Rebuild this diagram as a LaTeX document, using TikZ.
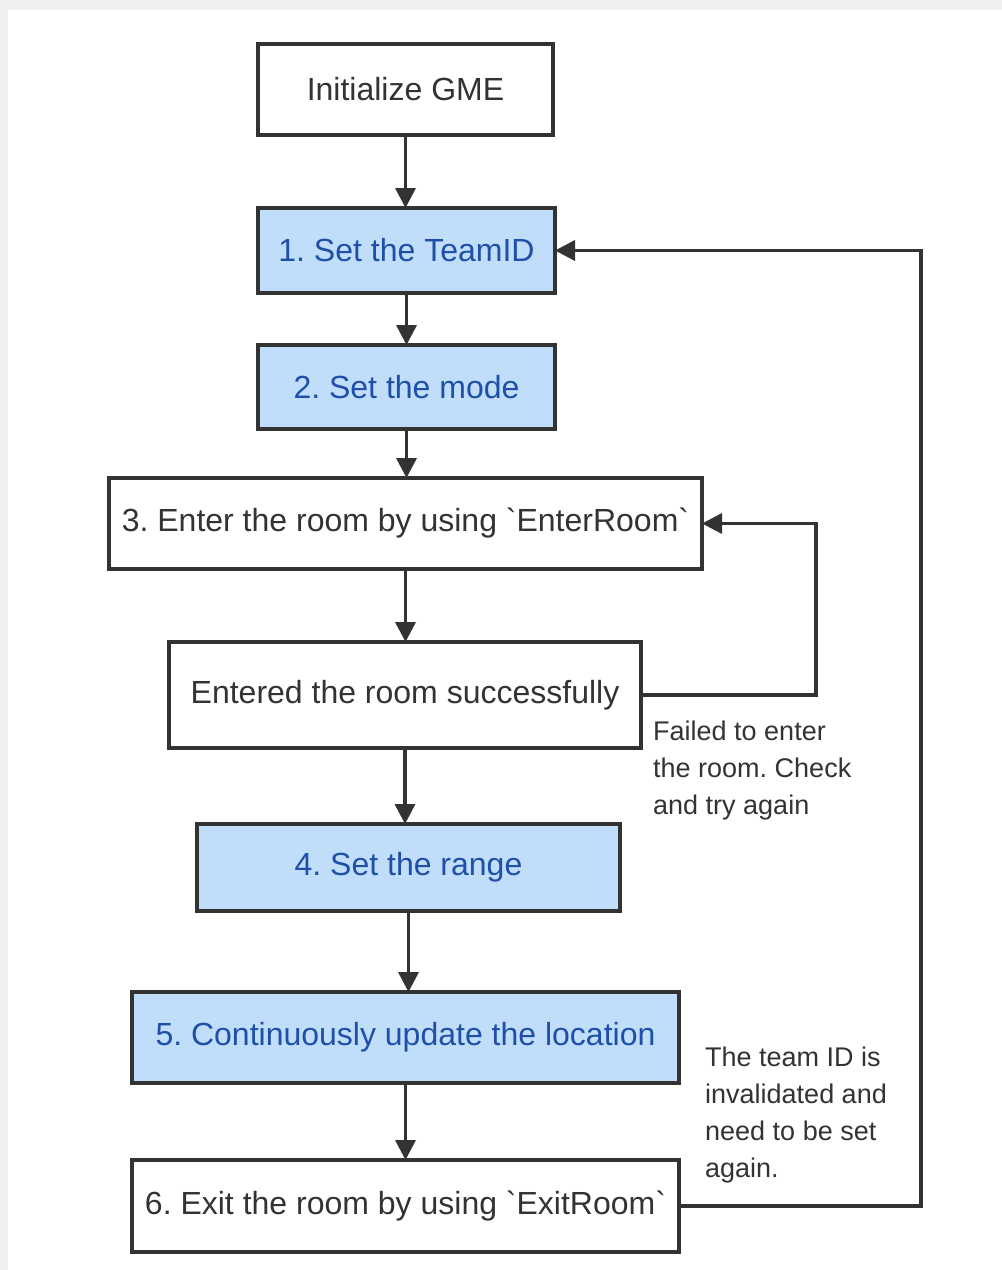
\documentclass[tikz,border=0pt]{standalone}
\usepackage{fontspec}
\setmainfont{Liberation Sans}[Ligatures=TeXOff]
\usetikzlibrary{arrows.meta}
\definecolor{edge}{HTML}{333333}
\definecolor{stepfill}{HTML}{C0DEF9}
\definecolor{steptext}{HTML}{1F4FA8}
\definecolor{plaintext}{HTML}{333333}
\definecolor{frame}{HTML}{EFEFEF}
\begin{document}
\frenchspacing
\begin{tikzpicture}[x=1pt,y=-1pt,
  box/.style={draw=edge, line width=3.5pt, fill=white, text=plaintext,
    font=\fontsize{32}{36}\selectfont, inner sep=0pt, outer sep=0pt, anchor=north west},
  stepbox/.style={box, fill=stepfill, text=steptext},
  link/.style={draw=edge, line width=3.5pt, -{Triangle[length=20pt,width=20pt]}},
  note/.style={text=plaintext, font=\fontsize{27}{37}\selectfont, align=left, anchor=north west, inner sep=0pt}]
  % page and light frame
  \fill[frame] (0,0) rectangle (1002,1270);
  \fill[white] (8,10) rectangle (1002,1270);
  \useasboundingbox (0,0) rectangle (1002,1270);
  % boxes
  \node[box, minimum width=295pt, minimum height=91pt] (init) at (258,44) {Initialize GME};
  \node[stepbox, minimum width=297pt, minimum height=85pt] (team) at (258,208) {1. Set the TeamID};
  \node[stepbox, minimum width=297pt, minimum height=84pt] (mode) at (258,345) {2. Set the mode};
  \node[box, minimum width=593pt, minimum height=91pt] (enter) at (109,478) {3. Enter the room by using `EnterRoom`};
  \node[box, minimum width=472pt, minimum height=106pt] (ok) at (169,642) {Entered the room successfully};
  \node[stepbox, minimum width=423pt, minimum height=87pt] (range) at (197,824) {4. Set the range};
  \node[stepbox, minimum width=547pt, minimum height=91pt] (loc) at (132,992) {5. Continuously update the location};
  \node[box, minimum width=547pt, minimum height=92pt] (exit) at (132,1160) {6. Exit the room by using `ExitRoom`};
  % main flow
  \draw[link] (init.south) -- (init.south |- team.north);
  \draw[link] (team.south) -- (team.south |- mode.north);
  \draw[link] (mode.south) -- (mode.south |- enter.north);
  \draw[link] (enter.south) -- (enter.south |- ok.north);
  \draw[link] (ok.south) -- (ok.south |- range.north);
  \draw[link] (range.south) -- (range.south |- loc.north);
  \draw[link] (loc.south) -- (loc.south |- exit.north);
  % retry loops
  \coordinate (retry) at (816,0);
  \coordinate (reset) at (921,0);
  \draw[link] (ok.east) -| (retry |- ok.east) |- (enter.east);
  \draw[link] (exit.east) -| (reset |- exit.east) |- (team.east);
  % loop notes
  \node[note] (failnote) at (653,721) {Failed to enter\\the room. Check\\and try again};
  \node[note] (resetnote) at (705,1047) {The team ID is\\invalidated and\\need to be set\\again.};
\end{tikzpicture}
\end{document}
